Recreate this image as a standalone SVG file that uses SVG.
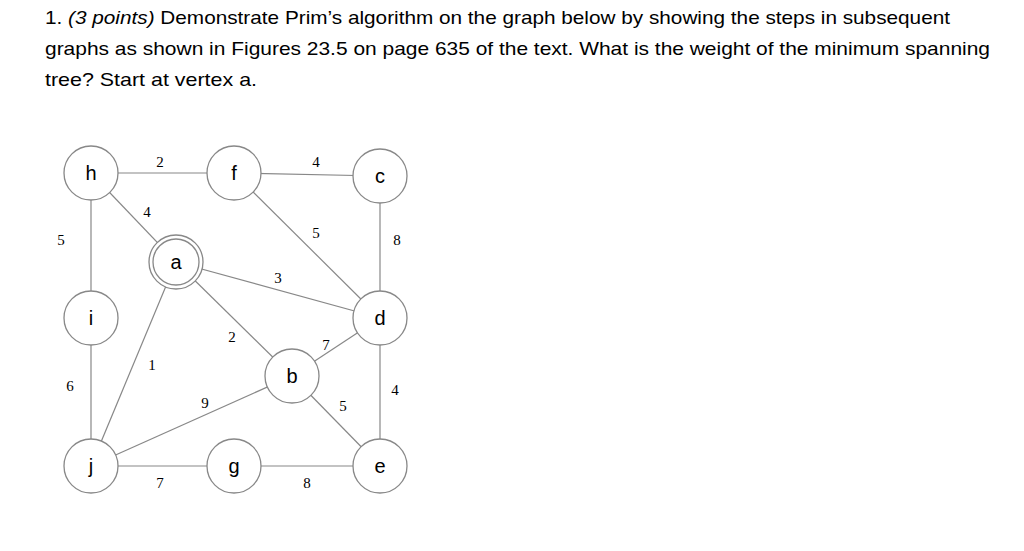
<svg xmlns="http://www.w3.org/2000/svg" width="1024" height="551" viewBox="0 0 1024 551">
<style>
.t{font-family:"Liberation Sans",Arial,sans-serif;font-size:18.5px;fill:#000}
.n circle{fill:#fff;stroke:#888;stroke-width:1.3}
.n text{font-family:"Liberation Sans",Arial,sans-serif;font-size:20px;text-anchor:middle;fill:#000}
.e line{stroke:#888;stroke-width:1.2}
.w{font-family:"Liberation Serif","Times New Roman",serif;font-size:15px;text-anchor:middle;fill:#000}
</style>
<rect width="1024" height="551" fill="#fff"/>
<text class="t" x="45" y="24" textLength="905" lengthAdjust="spacingAndGlyphs">1. <tspan font-style="italic">(3 points)</tspan> Demonstrate Prim’s algorithm on the graph below by showing the steps in subsequent</text>
<text class="t" x="45" y="55" textLength="945" lengthAdjust="spacingAndGlyphs">graphs as shown in Figures 23.5 on page 635 of the text.  What is the weight of the minimum spanning</text>
<text class="t" x="45" y="86" textLength="212" lengthAdjust="spacingAndGlyphs">tree?  Start at vertex a.</text>
<g class="e" id="connectors">
<line x1="91" y1="173" x2="234" y2="173"/>
<line x1="234" y1="173" x2="380" y2="176"/>
<line x1="91" y1="173" x2="176" y2="262"/>
<line x1="91" y1="173" x2="91" y2="318"/>
<line x1="234" y1="173" x2="380" y2="318"/>
<line x1="380" y1="176" x2="380" y2="318"/>
<line x1="176" y1="262" x2="380" y2="318"/>
<line x1="176" y1="262" x2="292" y2="376"/>
<line x1="380" y1="318" x2="292" y2="376"/>
<line x1="91" y1="318" x2="91" y2="466"/>
<line x1="176" y1="262" x2="91" y2="466"/>
<line x1="91" y1="466" x2="292" y2="376"/>
<line x1="380" y1="318" x2="380" y2="466"/>
<line x1="292" y1="376" x2="380" y2="466"/>
<line x1="91" y1="466" x2="380" y2="466"/>
</g>
<g id="weights">
<text class="w" x="160" y="167">2</text>
<text class="w" x="316" y="167">4</text>
<text class="w" x="147" y="217">4</text>
<text class="w" x="61" y="245">5</text>
<text class="w" x="316" y="238">5</text>
<text class="w" x="397" y="245">8</text>
<text class="w" x="278" y="283">3</text>
<text class="w" x="232" y="342">2</text>
<text class="w" x="326" y="350">7</text>
<text class="w" x="152" y="370">1</text>
<text class="w" x="70" y="391">6</text>
<text class="w" x="205" y="408">9</text>
<text class="w" x="395" y="395">4</text>
<text class="w" x="343" y="411">5</text>
<text class="w" x="160" y="488">7</text>
<text class="w" x="307" y="488">8</text>
</g>
<g class="n" id="h"><circle cx="91" cy="173" r="27"/><text x="91" y="180">h</text></g>
<g class="n" id="f"><circle cx="234" cy="173" r="27"/><text x="234" y="180">f</text></g>
<g class="n" id="c"><circle cx="380" cy="176" r="27"/><text x="380" y="183">c</text></g>
<g class="n" id="a"><circle cx="176" cy="262" r="27"/><circle cx="176" cy="262" r="23"/><text x="176" y="269">a</text></g>
<g class="n" id="i"><circle cx="91" cy="318" r="27"/><text x="91" y="325">i</text></g>
<g class="n" id="d"><circle cx="380" cy="318" r="27"/><text x="380" y="325">d</text></g>
<g class="n" id="b"><circle cx="292" cy="376" r="27"/><text x="292" y="383">b</text></g>
<g class="n" id="j"><circle cx="91" cy="466" r="27"/><text x="91" y="473">j</text></g>
<g class="n" id="g"><circle cx="234" cy="466" r="27"/><text x="234" y="473">g</text></g>
<g class="n" id="e"><circle cx="380" cy="466" r="27"/><text x="380" y="473">e</text></g>
</svg>
